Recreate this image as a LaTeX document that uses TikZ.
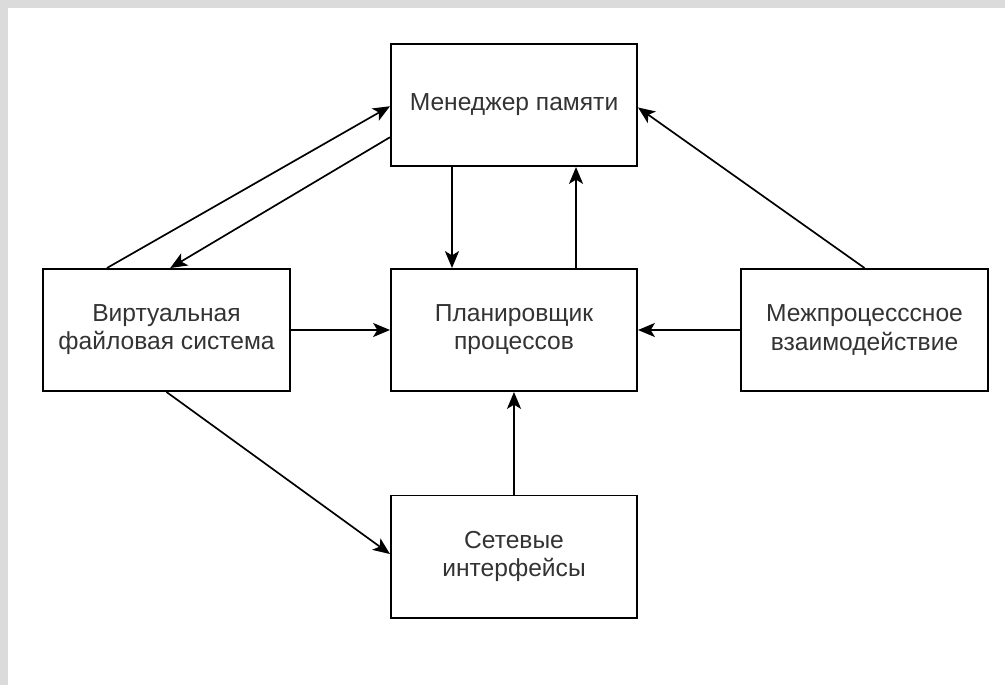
\documentclass[tikz,border=0pt]{standalone}
\usepackage{fontspec}
\setmainfont{Liberation Sans}
\usetikzlibrary{arrows.meta,calc}

\begin{document}
\begin{tikzpicture}[x=0.025cm,y=-0.025cm,
    block/.style={draw,line width=1.4pt,minimum width=6.15cm,
      minimum height=3.05cm,inner sep=0pt,align=center,text=black!80,
      font=\fontsize{17.5}{20}\selectfont},
    link/.style={-{Stealth[length=12pt,width=10pt,inset=3pt]},line width=1.2pt}]
    \useasboundingbox (0,0) rectangle (1005,685);

    % the grey frame
    \fill[black!14] (0,0) rectangle (1005,8);
    \fill[black!14] (0,0) rectangle (8,685);

    % the blocks
    \node[block] (mem) at (514,105) {Менеджер памяти};
    \node[block] (vfs) at (166.5,330) {Виртуальная\\файловая система};
    \node[block] (sched) at (514,330) {Планировщик\\процессов};
    \node[block] (ipc) at (864.5,330) {Межпроцесссное\\взаимодействие};
    \node[block] (net) at (514,556.5) {Сетевые\\интерфейсы};

    % the two lines between the file system and the memory manager
    \draw[link] ($(vfs.north west)!0.26!(vfs.north east)$) --
    ($(mem.north west)!0.51!(mem.south west)$);
    \draw[link] ($(mem.north west)!0.76!(mem.south west)$) --
    ($(vfs.north west)!0.515!(vfs.north east)$);

    % memory manager and scheduler
    \draw[link] ($(mem.south west)!0.25!(mem.south east)$) --
    ($(sched.north west)!0.25!(sched.north east)$);
    \draw[link] ($(sched.north west)!0.75!(sched.north east)$) --
    ($(mem.south west)!0.75!(mem.south east)$);

    % into the scheduler
    \draw[link] (vfs.east) -- (sched.west);
    \draw[link] (ipc.west) -- (sched.east);
    \draw[link] (net.north) -- (sched.south);

    % the rest
    \draw[link] (ipc.north) -- ($(mem.north east)!0.52!(mem.south east)$);
    \draw[link] (vfs.south) -- ($(net.north west)!0.48!(net.south west)$);
\end{tikzpicture}
\end{document}
